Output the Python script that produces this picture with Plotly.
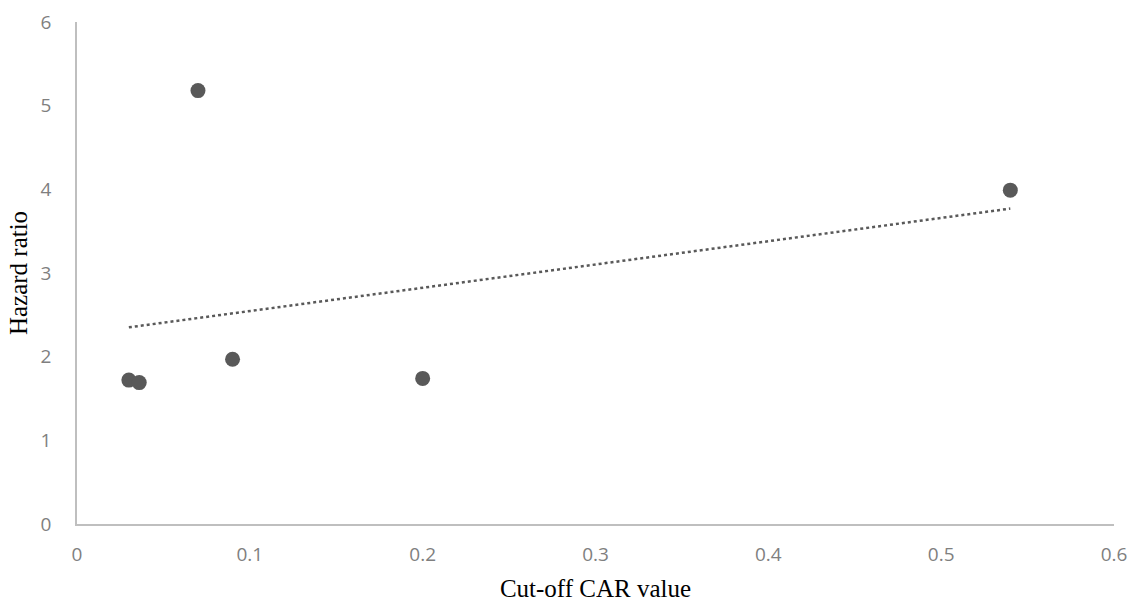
import numpy as np
import plotly.graph_objects as go

cutoff_car = [0.030, 0.036, 0.070, 0.090, 0.200, 0.540]
hazard_ratio = [1.72, 1.69, 5.18, 1.97, 1.74, 3.99]
x_ticks = [0, 0.1, 0.2, 0.3, 0.4, 0.5, 0.6]
x_tick_labels = ["0", "0.1", "0.2", "0.3", "0.4", "0.5", "0.6"]
y_ticks = [0, 1, 2, 3, 4, 5, 6]

# Linear trendline (least squares) fitted from data
slope, intercept = np.polyfit(cutoff_car, hazard_ratio, 1)
trend_x = [min(cutoff_car), max(cutoff_car)]
trend_y = [slope * v + intercept for v in trend_x]

fig = go.Figure()
fig.add_trace(go.Scatter(
    x=trend_x, y=trend_y, mode="lines",
    line=dict(color="#595959", width=2.5, dash="dot"),
    hoverinfo="skip", showlegend=False))
fig.add_trace(go.Scatter(
    x=cutoff_car, y=hazard_ratio, mode="markers",
    marker=dict(color="#595959", size=15, line=dict(width=0)),
    showlegend=False))

tick_font = dict(family="Open Sans, Noto Sans, sans-serif", size=19, color="#7f7f7f")
title_font = dict(family="Liberation Serif, Times New Roman, serif", size=25, color="#000000")

fig.update_layout(
    width=1130, height=602,
    margin=dict(l=77, r=16, t=22, b=78),
    paper_bgcolor="white", plot_bgcolor="white",
    xaxis=dict(
        range=[0, 0.6], tickvals=x_ticks, ticktext=x_tick_labels,
        showgrid=False, zeroline=False, showline=True, linecolor="#bfbfbf", linewidth=1.5,
        ticks="", tickfont=tick_font, ticklabelstandoff=12, automargin=False,
        title=dict(text="Cut-off CAR value", font=title_font, standoff=17)),
    yaxis=dict(
        range=[0, 6], tickvals=y_ticks,
        showgrid=False, zeroline=False, showline=True, linecolor="#bfbfbf", linewidth=1.5,
        ticks="", tickfont=tick_font, ticklabelstandoff=20, automargin=False,
        title=dict(text="Hazard ratio", font=title_font, standoff=6)),
)

fig.write_html("out.html", config={"displayModeBar": False},
               post_script="document.body.style.margin='0';")
